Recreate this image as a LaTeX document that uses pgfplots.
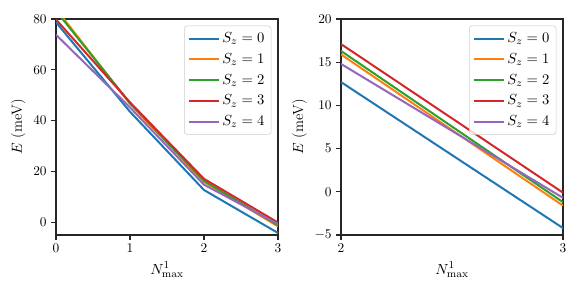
\documentclass[border=0pt]{standalone}
\usepackage{pgfplots}
\pgfplotsset{compat=1.18}
\definecolor{mplblue}{HTML}{1F77B4}
\definecolor{mplorange}{HTML}{FF7F0E}
\definecolor{mplgreen}{HTML}{2CA02C}
\definecolor{mplred}{HTML}{D62728}
\definecolor{mplpurple}{HTML}{9467BD}
\pgfplotsset{
  myax/.style={
    width=166.5pt, height=162pt, scale only axis,
    tick align=outside, tick pos=left,
    major tick length=3.5pt,
    every tick/.style={black!85, line width=0.8pt},
    axis line style={black!85, line width=0.8pt},
    tick label style={font=\fontsize{10}{12}\selectfont},
    label style={font=\fontsize{11}{13}\selectfont},
    xlabel={$N^1_{\max}$}, ylabel={$E$ (meV)},
    ylabel style={yshift=-1pt},
    legend cell align=left,
    legend style={at={(1,1)}, xshift=-5pt, yshift=-5pt, anchor=north east, draw=black!20, rounded corners=2pt, fill=white, fill opacity=0.8, text opacity=1, row sep=2.6pt, font=\fontsize{11}{13}\selectfont, inner xsep=3pt, inner ysep=3pt},
    legend image code/.code={\draw[#1, line width=1.5pt] (0pt,0pt) -- (22pt,0pt);},
    clip=true,
  }
}
\begin{document}
\begin{tikzpicture}
\path[use as bounding box] (-42pt,-42pt) rectangle (393.75pt,176.25pt);
\begin{axis}[myax, xmin=0, xmax=3, ymin=-5, ymax=80, xtick={0,1,2,3}, ytick={0,20,40,60,80}]
\addplot[mplblue, line width=1.5pt] coordinates {(0,78.7) (1,43.5) (2,12.7) (3,-4.2)};
\addplot[mplorange, line width=1.5pt] coordinates {(0,84.0) (1,46.6) (2,15.9) (3,-1.6)};
\addplot[mplgreen, line width=1.5pt] coordinates {(0,83.2) (1,46.9) (2,16.3) (3,-1.2)};
\addplot[mplred, line width=1.5pt] coordinates {(0,79.8) (1,47.2) (2,17.1) (3,-0.1)};
\addplot[mplpurple, line width=1.5pt] coordinates {(0,73.8) (1,45.2) (2,14.8) (3,-0.7)};
\legend{$S_z=0$,$S_z=1$,$S_z=2$,$S_z=3$,$S_z=4$}
\end{axis}
\begin{axis}[myax, xshift=213.75pt, xmin=2, xmax=3, ymin=-5, ymax=20, xtick={2,3}, ytick={-5,0,5,10,15,20}]
\addplot[mplblue, line width=1.5pt] coordinates {(2,12.7) (3,-4.2)};
\addplot[mplorange, line width=1.5pt] coordinates {(2,15.9) (3,-1.6)};
\addplot[mplgreen, line width=1.5pt] coordinates {(2,16.3) (3,-1.2)};
\addplot[mplred, line width=1.5pt] coordinates {(2,17.1) (3,-0.1)};
\addplot[mplpurple, line width=1.5pt] coordinates {(2,14.8) (3,-0.7)};
\legend{$S_z=0$,$S_z=1$,$S_z=2$,$S_z=3$,$S_z=4$}
\end{axis}
\end{tikzpicture}
\end{document}
